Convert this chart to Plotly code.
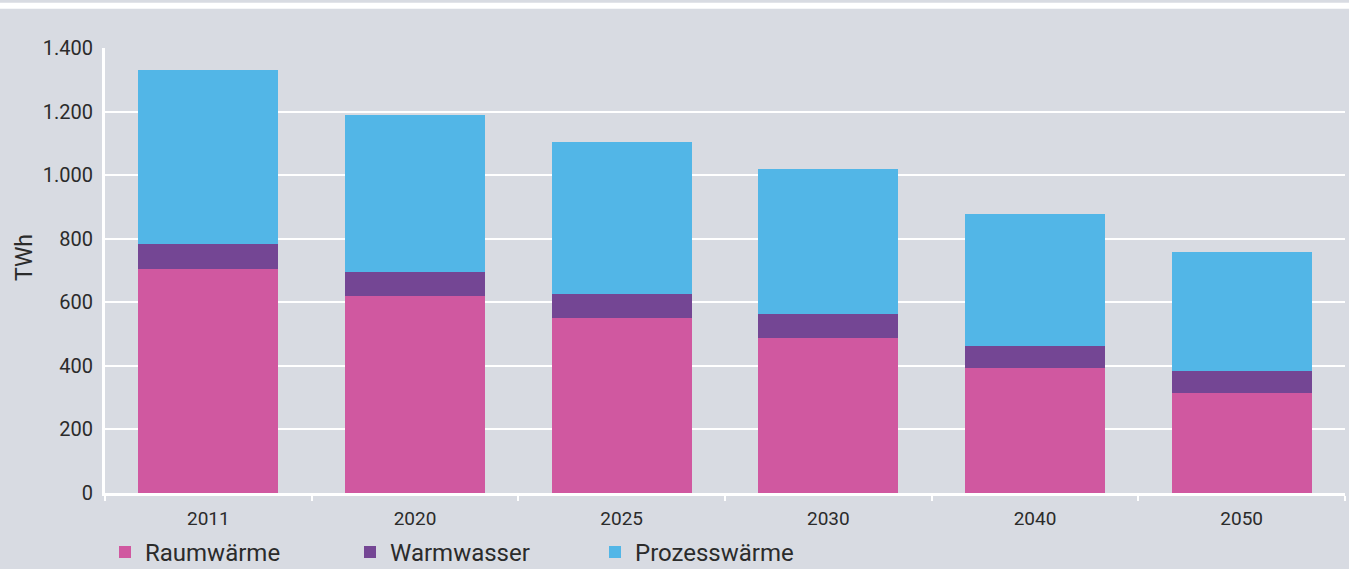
import plotly.graph_objects as go

years = ["2011", "2020", "2025", "2030", "2040", "2050"]
raumwaerme = [706, 620, 550, 487, 393, 315]
warmwasser = [77, 76, 77, 77, 70, 69]
prozesswaerme = [547, 493, 477, 454, 414, 375]
y_ticks = [0, 200, 400, 600, 800, 1000, 1200, 1400]

BG = "#d8dbe2"
TXT = "#2b2b2b"
FONT = "Roboto"

fig = go.Figure()
fig.add_trace(go.Bar(name="Raumwärme", x=years, y=raumwaerme,
                     marker=dict(color="#d058a0", line=dict(width=0))))
fig.add_trace(go.Bar(name="Warmwasser", x=years, y=warmwasser,
                     marker=dict(color="#744694", line=dict(width=0))))
fig.add_trace(go.Bar(name="Prozesswärme", x=years, y=prozesswaerme,
                     marker=dict(color="#52b6e7", line=dict(width=0))))

fig.update_layout(
    width=1349, height=569,
    barmode="stack", bargap=0.323,
    separators=",.",
    paper_bgcolor=BG, plot_bgcolor=BG,
    font=dict(family=FONT, color=TXT, size=20),
    margin=dict(l=105, r=4, t=48, b=76, autoexpand=False),
    showlegend=True,
    legend=dict(orientation="h", x=0.0, xanchor="left", y=-0.1335, yanchor="middle",
                font=dict(size=24, family=FONT, color=TXT), bgcolor="rgba(0,0,0,0)",
                traceorder="normal", entrywidth=200, entrywidthmode="pixels"),
    shapes=[dict(type="rect", xref="paper", yref="paper", x0=-0.2, x1=1.2,
                 y0=(492.7 - 9) / 444.4, y1=(492.7 - 3) / 444.4,
                 fillcolor="white", line=dict(width=0), layer="below")],
    annotations=[dict(text="TWh", xref="paper", yref="paper",
                      x=(25 - 105) / 1240, y=(492.7 - 258) / 444.4,
                      xanchor="center", yanchor="middle", textangle=-90, showarrow=False,
                      font=dict(size=23, family=FONT, color=TXT))],
)

fig.update_xaxes(
    type="category", showline=True, linecolor="white", linewidth=3,
    ticks="outside", tickson="boundaries", ticklen=5, tickwidth=2, tickcolor="white",
    ticklabelstandoff=6,
    tickfont=dict(size=19, family=FONT, color=TXT), showgrid=False,
)
fig.update_yaxes(
    range=[0, 1400], tickvals=y_ticks, tickformat=",d",
    showline=True, linecolor="white", linewidth=3,
    showgrid=True, gridcolor="white", gridwidth=2, zeroline=False,
    ticks="", ticklabelstandoff=5,
    tickfont=dict(size=20, family=FONT, color=TXT),
)

fig.write_html("out.html", config={"displayModeBar": False},
               post_script="document.body.style.margin='0px';document.body.style.overflow='hidden';")
